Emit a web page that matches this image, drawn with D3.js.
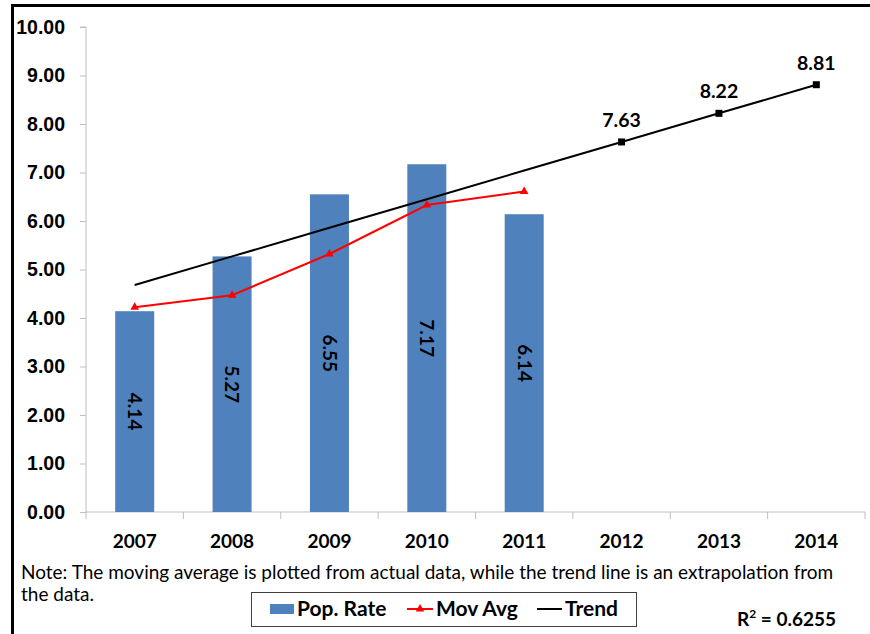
<!DOCTYPE html>
<html>
<head>
<meta charset="utf-8">
<script src="https://cdn.jsdelivr.net/npm/d3@7"></script>
<style>
  html, body { margin: 0; padding: 0; background: #fff; }
  svg { display: block; font-family: Lato, "Open Sans", sans-serif; }
</style>
</head>
<body>
<svg id="chart" width="870" height="634"></svg>
<script>
// Population rate by year, with moving average and linear trend
const years = ["2007", "2008", "2009", "2010", "2011", "2012", "2013", "2014"];
const popRate = [4.14, 5.27, 6.55, 7.17, 6.14];
const movAvg = [4.22, 4.47, 5.32, 6.33, 6.61];
const trend = [4.68, 5.27, 5.86, 6.45, 7.04, 7.63, 8.22, 8.81];
const trendLabelled = ["2012", "2013", "2014"];
const yTicks = [0, 1, 2, 3, 4, 5, 6, 7, 8, 9, 10];
const noteLines = [
  "Note: The moving average is plotted from actual data, while the trend line is an extrapolation  from",
  "the data."
];
const legendItems = ["Pop. Rate", "Mov Avg", "Trend"];
const rSquared = "0.6255";

const svg = d3.select("#chart");
const axisColor = "#bfbfbf";
const barColor = "#4f81bd";

// frame: heavy rule across the top and down the left side
svg.append("line").attr("x1", 12).attr("x2", 870).attr("y1", 5.5).attr("y2", 5.5)
  .attr("stroke", "#000").attr("stroke-width", 3);
svg.append("line").attr("x1", 12.5).attr("x2", 12.5).attr("y1", 4).attr("y2", 634)
  .attr("stroke", "#000").attr("stroke-width", 3);

const x = d3.scaleBand().domain(years).range([86, 865]);
const y = d3.scaleLinear().domain([0, 10]).range([512, 27]);

// y axis
const yAxis = svg.append("g").attr("transform", "translate(86,0)")
  .call(d3.axisLeft(y).tickValues(yTicks).tickFormat(d3.format(".2f")).tickSize(6).tickPadding(15));
yAxis.select(".domain").attr("stroke", axisColor).attr("d", `M-6,${y(10)}H0V${y(0)}`);
yAxis.selectAll(".tick line").attr("stroke", axisColor);
yAxis.selectAll(".tick text").attr("fill", "#000").attr("font-size", 19.5).attr("font-weight", "bold");

// x axis with ticks on category boundaries
const xAxisG = svg.append("g").attr("transform", `translate(0,${y(0)})`);
xAxisG.append("line").attr("x1", 86).attr("x2", 865).attr("stroke", axisColor);
const boundaries = years.map(d => x(d)).concat([x.range()[1]]);
xAxisG.selectAll("line.b").data(boundaries).join("line").attr("class", "b")
  .attr("x1", d => d).attr("x2", d => d).attr("y1", 0).attr("y2", 7).attr("stroke", axisColor);
xAxisG.selectAll("text").data(years).join("text")
  .attr("x", d => x(d) + x.bandwidth() / 2).attr("y", 36)
  .attr("text-anchor", "middle").attr("font-size", 19).attr("font-weight", "bold").text(d => d);

// bars
const barW = 39;
const barData = popRate.map((v, i) => ({ year: years[i], v }));
svg.selectAll("rect.bar").data(barData).join("rect").attr("class", "bar")
  .attr("x", d => x(d.year) + x.bandwidth() / 2 - barW / 2)
  .attr("y", d => y(d.v)).attr("width", barW).attr("height", d => y(0) - y(d.v))
  .attr("fill", barColor);

// rotated value labels inside bars
svg.selectAll("text.barlab").data(barData).join("text").attr("class", "barlab")
  .attr("transform", d => `translate(${x(d.year) + x.bandwidth() / 2},${(y(d.v) + y(0)) / 2}) rotate(90)`)
  .attr("text-anchor", "middle").attr("dy", "0.35em")
  .attr("font-size", 19).attr("font-weight", "bold").attr("fill", "#000")
  .text(d => d.v.toFixed(2));

// trend line
const trendData = trend.map((v, i) => ({ year: years[i], v }));
const lineGen = d3.line().x(d => x(d.year) + x.bandwidth() / 2).y(d => y(d.v));
svg.append("path").datum(trendData).attr("d", lineGen)
  .attr("fill", "none").attr("stroke", "#000").attr("stroke-width", 2);
const trendMarked = trendData.filter(d => trendLabelled.includes(d.year));
svg.selectAll("rect.tm").data(trendMarked).join("rect").attr("class", "tm")
  .attr("x", d => x(d.year) + x.bandwidth() / 2 - 3.5).attr("y", d => y(d.v) - 3.5)
  .attr("width", 7).attr("height", 7).attr("fill", "#000");
svg.selectAll("text.tl").data(trendMarked).join("text").attr("class", "tl")
  .attr("x", d => x(d.year) + x.bandwidth() / 2).attr("y", d => y(d.v) - 15)
  .attr("text-anchor", "middle").attr("font-size", 19.5).attr("font-weight", "bold")
  .text(d => d.v.toFixed(2));

// moving average line
const maData = movAvg.map((v, i) => ({ year: years[i], v }));
svg.append("path").datum(maData).attr("d", lineGen)
  .attr("fill", "none").attr("stroke", "#ff0000").attr("stroke-width", 2);
const tri = d3.symbol().type(d3.symbolTriangle).size(32);
svg.selectAll("path.mm").data(maData).join("path").attr("class", "mm")
  .attr("transform", d => `translate(${x(d.year) + x.bandwidth() / 2},${y(d.v)})`)
  .attr("d", tri).attr("fill", "#ff0000");

// note
svg.selectAll("text.note").data(noteLines).join("text").attr("class", "note")
  .attr("x", 21).attr("y", (d, i) => 579 + i * 22)
  .attr("font-size", 19).attr("fill", "#000").text(d => d);

// legend
const lg = svg.append("g");
lg.append("rect").attr("x", 251.5).attr("y", 592.5).attr("width", 385).attr("height", 34)
  .attr("fill", "#fff").attr("stroke", "#404040").attr("stroke-width", 1);
const ly = 609;
lg.append("rect").attr("x", 270).attr("y", ly - 5).attr("width", 24).attr("height", 10).attr("fill", barColor);
lg.append("line").attr("x1", 407).attr("x2", 433).attr("y1", ly).attr("y2", ly)
  .attr("stroke", "#ff0000").attr("stroke-width", 2);
lg.append("path").attr("transform", `translate(420,${ly})`).attr("d", tri).attr("fill", "#ff0000");
lg.append("line").attr("x1", 537).attr("x2", 562).attr("y1", ly).attr("y2", ly)
  .attr("stroke", "#000").attr("stroke-width", 2);
const lx = [297, 436, 565];
lg.selectAll("text").data(legendItems).join("text")
  .attr("x", (d, i) => lx[i]).attr("y", ly).attr("dy", "0.35em")
  .attr("font-size", 21).attr("font-weight", "bold").text(d => d);

// R squared
const rt = svg.append("text").attr("x", 737).attr("y", 626)
  .attr("font-size", 19).attr("font-weight", "bold");
rt.append("tspan").text("R");
rt.append("tspan").attr("dy", -8).attr("font-size", 12).text("2");
rt.append("tspan").attr("dy", 8).text(" = " + rSquared);
</script>
</body>
</html>
